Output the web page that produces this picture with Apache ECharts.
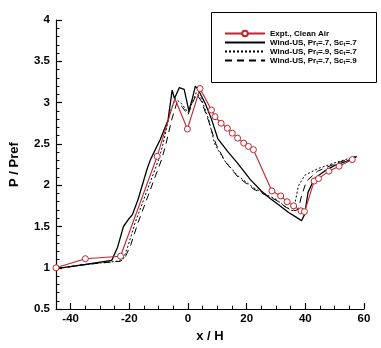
<!DOCTYPE html>
<html>
<head>
<meta charset="utf-8">
<script src="https://cdn.jsdelivr.net/npm/echarts@6/dist/echarts.min.js"></script>
<style>html,body{margin:0;padding:0;background:#fff}#c{width:381px;height:348px}</style>
</head>
<body>
<div id="c"></div>
<script>
// ---- data ----
const seriesNames = [
  'Expt., Clean Air',
  'Wind-US, Pr_t=.7, Sc_t=.7',
  'Wind-US, Pr_t=.9, Sc_t=.7',
  'Wind-US, Pr_t=.7, Sc_t=.9'
];
const xMajorTicks = [-40, -20, 0, 20, 40, 60];
const xMinorTicks = [-45, -35, -30, -25, -15, -10, -5, 5, 10, 15, 25, 30, 35, 45, 50, 55];
const yTicks = [0.5, 1, 1.5, 2, 2.5, 3, 3.5, 4];

const exptX = [-45, -35, -23, -10.5, -4.5, -0.2, 4.1, 8, 9.2, 11.3, 13.4, 15.1, 16.9, 19, 20.6, 22.3, 28.6, 31.6, 33.8, 36, 38.5, 39.7, 41, 43, 44.5, 48, 51.5, 56];
const exptY = [1.0, 1.11, 1.14, 2.35, 3.05, 2.68, 3.17, 2.91, 2.83, 2.75, 2.69, 2.63, 2.57, 2.51, 2.47, 2.43, 1.93, 1.87, 1.80, 1.75, 1.69, 1.68, 1.82, 2.05, 2.08, 2.17, 2.23, 2.31];
const exptUnmarked = [-4.5, 41];

const w77X = [-45, -35, -26, -24, -22, -20, -19, -17, -14, -12.8, -9.5, -6.8, -5.4, -4.6, -3, -1.3, 0.3, 1.5, 2.5, 3.6, 6, 8, 10.2, 13.5, 16.8, 21.2, 25, 28, 31, 34.3, 37, 38.7, 39.8, 40.9, 43.1, 46.5, 50, 54, 57.5];
const w77Y = [0.99, 1.04, 1.09, 1.25, 1.50, 1.60, 1.64, 1.83, 2.19, 2.31, 2.55, 2.79, 3.15, 3.05, 3.18, 3.16, 2.90, 3.05, 3.20, 3.15, 2.98, 2.80, 2.56, 2.41, 2.27, 2.07, 1.93, 1.84, 1.76, 1.67, 1.61, 1.57, 1.65, 1.91, 2.08, 2.17, 2.24, 2.29, 2.35];

const w97X = [-45, -35, -24, -22, -20.5, -18, -10, -8.5, -6.2, -4.3, -2, 0, 1.5, 2.8, 4.5, 7, 9.1, 12.4, 16.8, 22.3, 27, 30, 33.2, 35, 36, 37.6, 39.8, 44.2, 50.8, 57.4];
const w97Y = [0.99, 1.04, 1.08, 1.11, 1.26, 1.55, 2.31, 2.5, 2.87, 3.05, 2.98, 2.88, 3.0, 3.12, 3.05, 2.80, 2.50, 2.30, 2.12, 1.97, 1.88, 1.83, 1.74, 1.70, 1.69, 1.99, 2.12, 2.20, 2.28, 2.35];

const w79X = [-45, -35, -23, -21.5, -19.5, -17, -9, -7.5, -5.5, -3.8, -2, 0, 1.5, 3, 4.5, 7, 9.5, 12.8, 17, 22.5, 27, 30, 33.5, 36.5, 37.6, 38.7, 40.4, 44.2, 50.8, 57.4];
const w79Y = [0.99, 1.04, 1.08, 1.12, 1.28, 1.55, 2.31, 2.5, 2.80, 3.0, 2.95, 2.85, 3.0, 3.10, 3.02, 2.78, 2.50, 2.28, 2.10, 1.95, 1.87, 1.82, 1.73, 1.69, 1.71, 1.87, 2.05, 2.17, 2.27, 2.34];

const zip = (xs, ys) => xs.map((x, i) => [x, ys[i]]);

const RED = '#c0262d';
const FONT = '"Liberation Sans", Arial, Helvetica, sans-serif';

const exptData = zip(exptX, exptY).map(p =>
  exptUnmarked.includes(p[0]) ? { value: p, symbol: 'none' } : p);

const chart = echarts.init(document.getElementById('c'));
const xBase = {
  type: 'value', min: -45, max: 60, position: 'bottom',
  splitLine: { show: false }
};
chart.setOption({
  animation: false,
  backgroundColor: '#fff',
  grid: { left: 46, right: 17, top: 20, bottom: 38 },
  graphic: [{
    type: 'rect', left: 211, top: 12, z: 5,
    shape: { width: 165, height: 70 },
    style: { fill: '#fff', stroke: '#000', lineWidth: 1 }
  }],
  legend: {
    orient: 'vertical', left: 219, top: 24, z: 10, padding: 5,
    itemWidth: 40, itemHeight: 7, itemGap: 0,
    data: seriesNames,
    formatter: n => n.replace(/_t/g, '{s|t}'),
    textStyle: {
      fontFamily: FONT, fontWeight: 'bold', fontSize: 8, color: '#000', lineHeight: 9,
      rich: { s: { fontFamily: FONT, fontWeight: 'bold', fontSize: 5.5, color: '#000', verticalAlign: 'bottom', lineHeight: 9, padding: [3, 0, 0, 0] } }
    }
  },
  xAxis: [
    Object.assign({}, xBase, {
      name: 'x / H', nameLocation: 'middle', nameGap: 20,
      nameTextStyle: { fontFamily: FONT, fontWeight: 'bold', fontSize: 13, color: '#000' },
      axisLine: { show: true, onZero: false, lineStyle: { color: '#000', width: 1.2 } },
      axisTick: { show: true, inside: true, length: 6, customValues: xMajorTicks, lineStyle: { color: '#000', width: 1.2 } },
      axisLabel: { customValues: xMajorTicks, margin: 4, fontFamily: FONT, fontWeight: 'bold', fontSize: 11.5, color: '#000' }
    }),
    Object.assign({}, xBase, {
      axisLine: { show: false, onZero: false },
      axisTick: { show: true, inside: true, length: 3.5, customValues: xMinorTicks, lineStyle: { color: '#000', width: 1 } },
      axisLabel: { show: false }
    })
  ],
  yAxis: {
    type: 'value', min: 0.5, max: 4, interval: 0.5,
    name: 'P / Pref', nameLocation: 'middle', nameGap: 35, nameRotate: 90,
    nameTextStyle: { fontFamily: FONT, fontWeight: 'bold', fontSize: 13, color: '#000' },
    axisLine: { show: true, onZero: false, lineStyle: { color: '#000', width: 1.2 } },
    axisTick: { show: true, inside: true, length: 6, lineStyle: { color: '#000', width: 1.2 } },
    minorTick: { show: true, splitNumber: 5, length: 3.5, lineStyle: { color: '#000', width: 1 } },
    splitLine: { show: false },
    axisLabel: {
      margin: 6, fontFamily: FONT, fontWeight: 'bold', fontSize: 11.5, color: '#000',
      formatter: v => String(yTicks.find(t => Math.abs(t - v) < 1e-9) ?? v)
    }
  },
  series: [
    {
      name: seriesNames[1], type: 'line', data: zip(w77X, w77Y), symbol: 'none',
      lineStyle: { color: '#000', width: 1.3 }, itemStyle: { color: 'transparent', borderWidth: 0 }, z: 3
    },
    {
      name: seriesNames[2], type: 'line', data: zip(w97X, w97Y), symbol: 'none',
      lineStyle: { color: '#000', width: 1, type: [2, 2] }, itemStyle: { color: 'transparent', borderWidth: 0 }, z: 3
    },
    {
      name: seriesNames[3], type: 'line', data: zip(w79X, w79Y), symbol: 'none',
      lineStyle: { color: '#000', width: 1, type: [7, 5] }, itemStyle: { color: 'transparent', borderWidth: 0 }, z: 3
    },
    {
      name: seriesNames[0], type: 'line', data: exptData,
      symbol: 'circle', symbolSize: 6, showAllSymbol: true,
      lineStyle: { color: RED, width: 1.1 },
      itemStyle: { color: '#fff', borderColor: RED, borderWidth: 1, opacity: 1 }, z: 4
    }
  ]
});
</script>
</body>
</html>
